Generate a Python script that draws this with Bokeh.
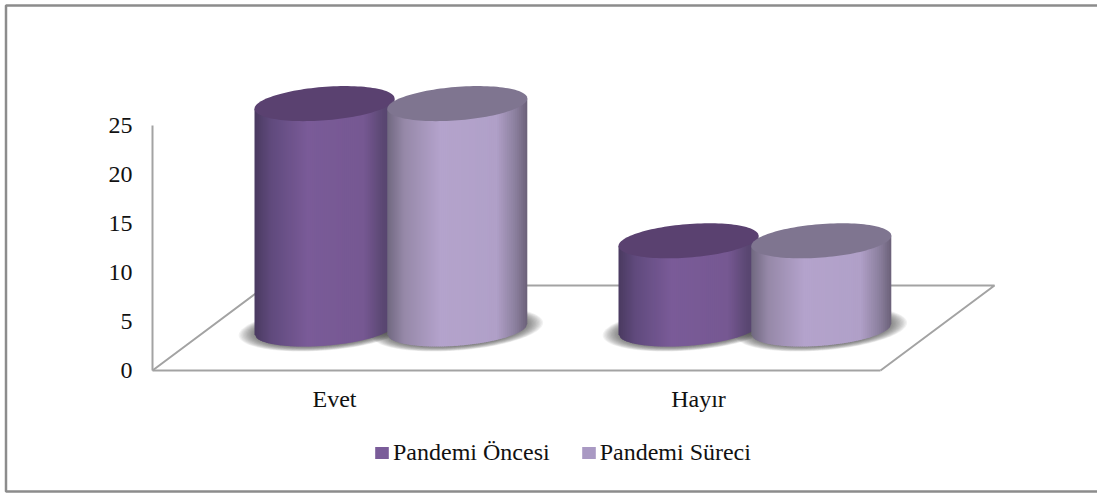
import numpy as np
from bokeh.embed import file_html
from bokeh.models import FixedTicker, Legend, LegendItem, Range1d
from bokeh.plotting import figure
from bokeh.resources import INLINE

categories = ["Evet", "Hayır"]
series_names = ["Pandemi Öncesi", "Pandemi Süreci"]
pandemi_oncesi = [23, 9]
pandemi_sureci = [23, 9]
y_ticks = [0, 5, 10, 15, 20, 25]

# Canvas and scale set-up: the frame fills the canvas and the plot origin sits inside it
WIDTH, HEIGHT = 1097, 493
ORIGIN_X, ORIGIN_Y = 152, 370
PX_PER_CATEGORY = 364.0
PX_PER_VALUE = 9.8
FONT = "Liberation Serif"
FONT_SIZE = "24px"
AXIS_COLOR = "#a3a3a3"

# 3D look of the columns, expressed in pixels and turned into data units below
SEMI_MAJOR, SEMI_MINOR, TILT = 70.2, 16.7, np.radians(4.5)
DEPTH_X = 56.4        # sideways shift of the columns caused by the floor's skew
DEPTH_Y = 41.5        # lift of the column bases above the front floor edge
SERIES_OFFSET = 66.4  # half the distance between the two columns of a group
FLOOR_DEPTH_X, FLOOR_DEPTH_Y = 114, 85

BODY_STOPS = [0.0, 0.12, 0.38, 0.78, 0.92, 1.0]
SERIES_STYLES = [
    dict(body=[(74, 58, 96), (96, 74, 125), (122, 91, 152), (118, 88, 146), (90, 71, 114), (84, 67, 108)],
         top="#5a4170", swatch="#7a5c99"),
    dict(body=[(112, 104, 128), (150, 136, 168), (180, 163, 204), (176, 160, 200), (138, 126, 156), (106, 96, 120)],
         top="#7f7590", swatch="#a999c3"),
]


def to_x(px):
    return np.asarray(px, dtype=float) / PX_PER_CATEGORY


def to_y(px):
    return np.asarray(px, dtype=float) / PX_PER_VALUE


def ellipse_outline(a, b, n=120):
    t = np.linspace(0, 2 * np.pi, n)
    ex = a * np.cos(t) * np.cos(TILT) - b * np.sin(t) * np.sin(TILT)
    ey = a * np.cos(t) * np.sin(TILT) + b * np.sin(t) * np.cos(TILT)
    return ex, ey


def lower_arc(dx):
    t_right = np.arctan2(-SEMI_MINOR * np.sin(TILT), SEMI_MAJOR * np.cos(TILT))
    t = np.linspace(t_right - np.pi, t_right, 400)
    ex = SEMI_MAJOR * np.cos(t) * np.cos(TILT) - SEMI_MINOR * np.sin(t) * np.sin(TILT)
    ey = SEMI_MAJOR * np.cos(t) * np.sin(TILT) + SEMI_MINOR * np.sin(t) * np.cos(TILT)
    return np.interp(dx, ex, ey)


def column_center(cat_index, series_index):
    shift = (-1 if series_index == 0 else 1) * SERIES_OFFSET
    return cat_index + to_x(DEPTH_X + shift)


def draw_shadow(fig, xc):
    # Stacked translucent ellipses give the soft edge of the floor shadow
    yc = to_y(DEPTH_Y)
    for k in range(14):
        scale = 1 - k * 0.016
        ex, ey = ellipse_outline(86 * scale, 21.5 * scale)
        fig.patch(xc + to_x(ex), yc + to_y(ey), fill_color="#404040", fill_alpha=0.065, line_color=None)


def draw_column(fig, xc, value, style):
    base = to_y(DEPTH_Y)
    top = base + value
    half = np.sqrt((SEMI_MAJOR * np.cos(TILT)) ** 2 + (SEMI_MINOR * np.sin(TILT)) ** 2)
    edges = np.arange(-half, half + 2, 2.0)
    edges[-1] = half
    rgb = np.array(style["body"], dtype=float)
    xs, ys, fills = [], [], []
    for x0, x1 in zip(edges[:-1], edges[1:]):
        x1b = min(x1 + 0.8, half)
        mid0 = (lower_arc(x0) - lower_arc(-x0)) / 2
        mid1 = (lower_arc(x1b) - lower_arc(-x1b)) / 2
        xs.append(xc + to_x([x0, x1b, x1b, x0]))
        ys.append(np.array([
            top + to_y(mid0), top + to_y(mid1),
            base + to_y(lower_arc(x1b)), base + to_y(lower_arc(x0)),
        ]))
        f = ((x0 + x1) / 2 + half) / (2 * half)
        c = [int(round(np.interp(f, BODY_STOPS, rgb[:, i]))) for i in range(3)]
        fills.append("#%02x%02x%02x" % tuple(c))
    fig.patches(xs, ys, fill_color=fills, line_color=None)
    ex, ey = ellipse_outline(SEMI_MAJOR, SEMI_MINOR)
    fig.patch(xc + to_x(ex), top + to_y(ey), fill_color=style["top"], line_color=None)


x_origin = -0.5
x_start = x_origin - float(to_x(ORIGIN_X))
x_end = x_start + float(to_x(WIDTH))
y_end = float(to_y(ORIGIN_Y))
y_start = y_end - float(to_y(HEIGHT))

p = figure(
    width=WIDTH, height=HEIGHT, output_backend="svg", toolbar_location=None,
    x_range=Range1d(x_start, x_end), y_range=Range1d(y_start, y_end),
    min_border=0, background_fill_color="white", border_fill_color="white", outline_line_color=None,
)
p.grid.visible = False

# Outer chart frame: top, left and bottom edges, the right edge runs off the canvas
p.line(
    [x_end, x_start + float(to_x(5.5)), x_start + float(to_x(5.5)), x_end],
    [y_end - float(to_y(5)), y_end - float(to_y(5)), y_end - float(to_y(491)), y_end - float(to_y(491))],
    line_color="#8c8c8c", line_width=2.5,
)

# Axes pinned to the plot origin
p.yaxis.ticker = FixedTicker(ticks=y_ticks)
p.yaxis.bounds = (0, 25)
p.yaxis.fixed_location = x_origin
p.xaxis.ticker = FixedTicker(ticks=list(range(len(categories))))
p.xaxis.major_label_overrides = {i: c for i, c in enumerate(categories)}
p.xaxis.bounds = (x_origin, x_origin + len(categories))
p.xaxis.fixed_location = 0
for axis in (p.xaxis[0], p.yaxis[0]):
    axis.axis_line_color = AXIS_COLOR
    axis.axis_line_width = 2
    axis.major_tick_line_color = None
    axis.minor_tick_line_color = None
    axis.major_tick_out = 0
    axis.major_tick_in = 0
    axis.minor_tick_out = 0
    axis.minor_tick_in = 0
    axis.major_label_text_font = FONT
    axis.major_label_text_font_size = FONT_SIZE
    axis.major_label_text_color = "#111111"
p.yaxis.major_label_standoff = 20
p.xaxis.major_label_standoff = 15

# Floor of the 3D plot: skewed sides and back edge
floor_dx, floor_dy = float(to_x(FLOOR_DEPTH_X)), float(to_y(FLOOR_DEPTH_Y))
x_front_right = x_origin + len(categories)
p.line([x_origin, x_origin + floor_dx, x_front_right + floor_dx, x_front_right],
       [0, floor_dy, floor_dy, 0], line_color=AXIS_COLOR, line_width=2)

# Columns, one group per category
series_values = [pandemi_oncesi, pandemi_sureci]
for ci in range(len(categories)):
    for si in range(len(series_values)):
        draw_shadow(p, column_center(ci, si))
for ci in range(len(categories)):
    for si, values in enumerate(series_values):
        draw_column(p, column_center(ci, si), values[ci], SERIES_STYLES[si])

# Legend along the bottom of the chart; the proxy glyphs only supply the swatch colours
items = []
for name, style in zip(series_names, SERIES_STYLES):
    blank = [float("nan")]
    proxy = p.quad(left=blank, right=blank, top=blank, bottom=blank, fill_color=style["swatch"], line_color=None)
    items.append(LegendItem(label=name, renderers=[proxy]))
legend = Legend(
    items=items, orientation="horizontal", location=(373, 27),
    glyph_width=17, glyph_height=15, label_standoff=3, spacing=30,
    padding=0, margin=0, border_line_color=None, background_fill_alpha=0,
    label_text_font=FONT, label_text_font_size=FONT_SIZE, label_text_color="#111111",
)
p.add_layout(legend)

open("out.html", "w").write(file_html(p, INLINE))
